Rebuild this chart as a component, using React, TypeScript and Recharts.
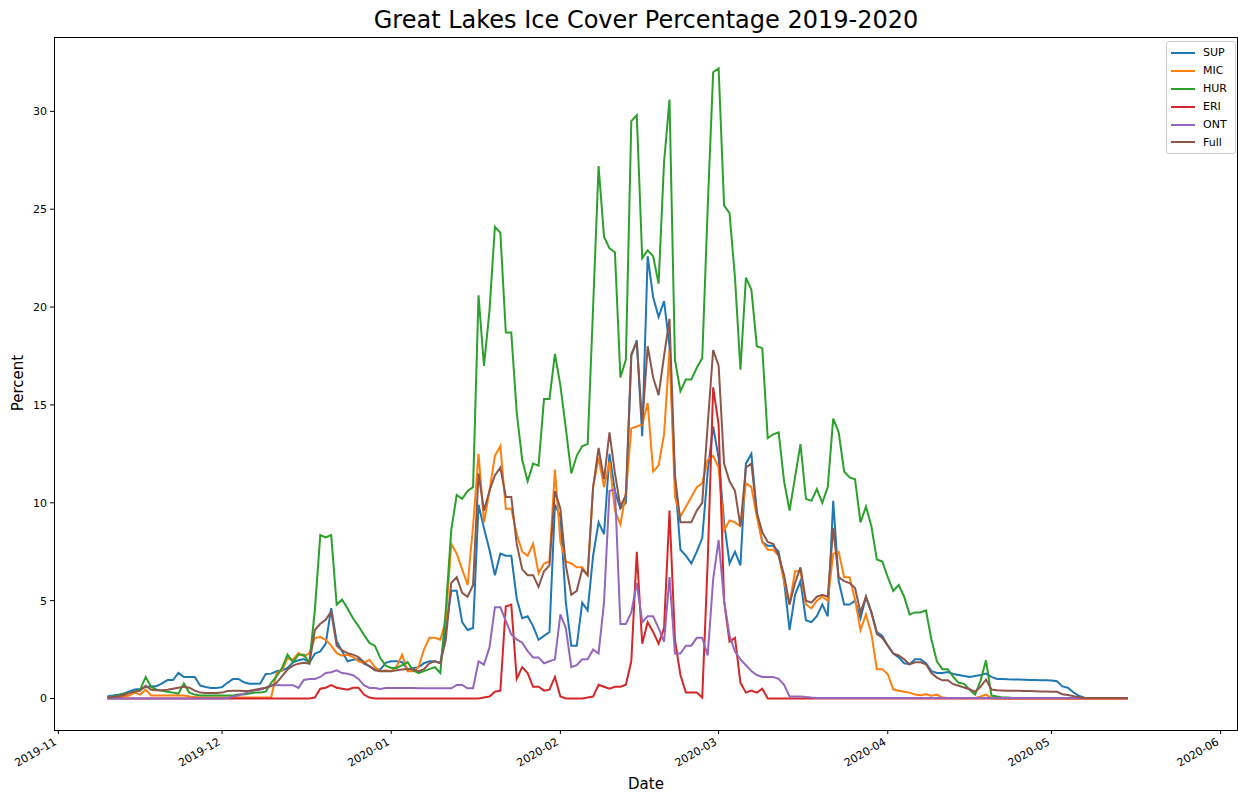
import { LineChart, Line, XAxis, YAxis } from "recharts"

const START = Date.UTC(2019, 10, 10)
const DAY = 86400000

// daily ice cover (%) from 2019-11-10 to 2020-05-15
const sup = [
  0.12, 0.15, 0.19, 0.25, 0.36, 0.46, 0.49, 0.58, 0.63, 0.63,
  0.77, 0.94, 0.94, 1.31, 1.1, 1.1, 1.1, 0.66, 0.59, 0.54,
  0.54, 0.58, 0.8, 1.0, 1.0, 0.83, 0.75, 0.75, 0.77, 1.25,
  1.27, 1.39, 1.43, 1.56, 1.85, 1.95, 2.02, 1.82, 2.29, 2.41,
  2.8, 4.62, 2.92, 2.41, 1.9, 1.98, 2.02, 1.78, 1.65, 1.48,
  1.48, 1.82, 1.9, 1.9, 1.85, 1.48, 1.56, 1.6, 1.8, 1.9,
  1.9, 1.8, 3.5, 5.5, 5.5, 3.9, 3.5, 3.6, 9.9, 8.7,
  7.6, 6.3, 7.4, 7.3, 7.3, 5.1, 4.1, 4.2, 3.7, 3.0,
  3.2, 3.4, 9.9, 9.3, 4.9, 2.7, 2.7, 4.9, 4.5, 7.3,
  9.0, 8.4, 12.5, 10.6, 9.7, 10.0, 17.5, 18.3, 13.4, 22.6,
  20.5, 19.5, 20.3, 18.0, 11.2, 7.6, 7.3, 6.9, 7.5, 8.2,
  11.6, 13.9, 12.3, 9.0, 6.9, 7.5, 6.8, 12.0, 12.5, 9.5,
  8.0, 7.8, 7.8, 7.5, 6.0, 3.5, 5.3, 6.0, 4.0, 3.9,
  4.2, 4.8, 4.2, 10.1, 6.0, 4.8, 4.8, 5.0, 4.1, 5.2,
  4.4, 3.4, 3.2, 2.7, 2.3, 2.1, 1.8, 1.75, 2.0, 2.0,
  1.8, 1.4, 1.3, 1.3, 1.35, 1.25, 1.2, 1.15, 1.1, 1.15,
  1.2, 1.27, 1.1, 1.0, 1.0, 0.98, 0.97, 0.97, 0.96, 0.95,
  0.94, 0.93, 0.93, 0.92, 0.88, 0.62, 0.55, 0.32, 0.14, 0.04,
  0.02, 0.02, 0.02, 0.02, 0.02, 0.02, 0.02, 0.02,
]

const mic = [
  0.02, 0.03, 0.05, 0.1, 0.15, 0.3, 0.2, 0.45, 0.15, 0.15,
  0.15, 0.15, 0.15, 0.15, 0.15, 0.1, 0.08, 0.05, 0.05, 0.05,
  0.05, 0.05, 0.05, 0.05, 0.05, 0.05, 0.05, 0.05, 0.05, 0.05,
  0.05, 1.3, 1.43, 2.07, 1.98, 2.32, 2.15, 2.32, 3.09, 3.14,
  3.0, 2.7, 2.32, 2.19, 2.24, 2.12, 1.9, 1.82, 1.98, 1.61,
  1.39, 1.44, 1.39, 1.64, 2.24, 1.39, 1.39, 1.6, 2.5, 3.1,
  3.1, 3.0, 4.0, 7.9, 7.4, 6.6, 5.8, 8.8, 12.5, 9.0,
  10.6, 12.4, 12.9, 9.7, 9.7, 8.4, 7.5, 7.3, 7.9, 6.4,
  6.9, 7.0, 11.7, 8.0, 7.0, 6.9, 6.7, 6.7, 6.3, 10.8,
  12.3, 10.8, 12.1, 9.6, 8.9, 10.5, 13.8, 13.9, 14.0, 15.1,
  11.6, 11.9, 13.5, 17.8, 10.3, 9.3, 9.8, 10.3, 10.8, 11.0,
  12.2, 12.4, 11.8, 8.6, 9.1, 9.0, 8.8, 11.0, 10.8, 9.3,
  8.0, 7.6, 7.6, 7.3, 6.0, 4.8, 6.5, 6.5, 4.8, 4.6,
  5.0, 5.2, 5.0, 7.4, 7.5, 6.2, 6.2, 5.05, 3.5, 4.3,
  3.3, 1.5, 1.5, 1.24, 0.47, 0.4, 0.35, 0.3, 0.2, 0.17,
  0.22, 0.14, 0.2, 0.05, 0.03, 0.03, 0.02, 0.01, 0.02, 0.02,
  0.1, 0.2, 0.02, 0, 0, 0, 0, 0, 0, 0,
  0, 0, 0, 0, 0, 0, 0, 0, 0, 0,
  0, 0, 0, 0, 0, 0, 0, 0,
]

const hur = [
  0.05, 0.1, 0.15, 0.25, 0.3, 0.35, 0.45, 1.1, 0.6, 0.45,
  0.4, 0.35, 0.3, 0.25, 0.76, 0.3, 0.2, 0.15, 0.15, 0.15,
  0.15, 0.15, 0.15, 0.15, 0.2, 0.2, 0.25, 0.3, 0.3, 0.35,
  0.8, 1.14, 1.57, 2.24, 1.85, 2.24, 2.24, 1.82, 4.5, 8.35,
  8.23, 8.35, 4.8, 5.05, 4.6, 4.1, 3.7, 3.25, 2.84, 2.7,
  2.07, 1.68, 1.56, 1.56, 1.7, 1.86, 1.44, 1.3, 1.4, 1.5,
  1.6, 1.3, 4.5, 8.6, 10.4, 10.2, 10.6, 10.8, 20.6, 17.0,
  19.8, 24.1, 23.8, 18.7, 18.7, 14.6, 12.2, 11.1, 12.0, 11.9,
  15.3, 15.3, 17.6, 16.0, 13.8, 11.5, 12.4, 12.9, 13.0, 20.0,
  27.2, 23.6, 23.0, 22.8, 16.4, 17.3, 29.5, 29.8, 22.5, 22.9,
  22.6, 21.2, 27.4, 30.6, 17.3, 15.7, 16.3, 16.3, 16.9, 17.4,
  25.1, 32.0, 32.2, 25.2, 24.8, 21.5, 16.8, 21.5, 20.9, 18.0,
  17.9, 13.3, 13.5, 13.6, 11.1, 9.6, 11.3, 13.0, 10.2, 10.1,
  10.7, 10.0, 10.8, 14.3, 13.6, 11.6, 11.3, 11.2, 9.0, 9.8,
  8.8, 7.1, 7.0, 6.2, 5.5, 5.8, 5.2, 4.3, 4.4, 4.4,
  4.5, 3.0, 1.9, 1.5, 1.5, 1.1, 0.8, 0.75, 0.45, 0.2,
  0.9, 1.95, 0.15, 0.1, 0.05, 0.05, 0.03, 0.03, 0.02, 0.02,
  0.02, 0.02, 0.02, 0.02, 0.02, 0.02, 0.02, 0.02, 0.02, 0.02,
  0.02, 0.02, 0.02, 0.02, 0.02, 0.02, 0.02, 0.02,
]

const eri = [
  0, 0, 0, 0, 0, 0, 0, 0, 0, 0,
  0, 0, 0, 0, 0, 0, 0, 0, 0, 0,
  0, 0, 0, 0, 0, 0, 0, 0, 0, 0,
  0, 0, 0, 0, 0, 0, 0, 0, 0.05, 0.5,
  0.55, 0.68, 0.55, 0.5, 0.45, 0.55, 0.55, 0.2, 0.05, 0,
  0, 0, 0, 0, 0, 0, 0, 0, 0, 0,
  0, 0, 0, 0, 0, 0, 0, 0, 0, 0.05,
  0.1, 0.35, 0.4, 4.7, 4.8, 1.0, 1.6, 1.3, 0.6, 0.6,
  0.4, 0.45, 1.1, 0.1, 0, 0, 0, 0, 0.05, 0.1,
  0.7, 0.6, 0.5, 0.6, 0.6, 0.7, 1.9, 7.5, 2.8, 3.9,
  3.4, 2.8, 3.6, 9.6, 3.0, 1.2, 0.3, 0.3, 0.3, 0.05,
  7.0, 15.9, 14.0, 5.0, 2.9, 3.1, 0.8, 0.3, 0.4, 0.3,
  0.5, 0, 0, 0, 0, 0, 0, 0, 0, 0,
  0, 0, 0, 0, 0, 0, 0, 0, 0, 0,
  0, 0, 0, 0, 0, 0, 0, 0, 0, 0,
  0, 0, 0, 0, 0, 0, 0, 0, 0, 0,
  0, 0, 0, 0, 0, 0, 0, 0, 0, 0,
  0, 0, 0, 0, 0, 0, 0, 0, 0, 0,
  0, 0, 0, 0, 0, 0, 0, 0,
]

const ont = [
  0, 0, 0, 0, 0, 0, 0, 0, 0, 0,
  0, 0, 0, 0, 0, 0, 0, 0, 0, 0,
  0, 0, 0.02, 0.1, 0.15, 0.25, 0.35, 0.42, 0.45, 0.55,
  0.68, 0.68, 0.68, 0.68, 0.68, 0.54, 0.95, 1.0, 1.0, 1.1,
  1.3, 1.34, 1.44, 1.3, 1.26, 1.19, 1.0, 0.68, 0.54, 0.54,
  0.49, 0.54, 0.54, 0.54, 0.54, 0.54, 0.54, 0.52, 0.52, 0.52,
  0.52, 0.52, 0.52, 0.52, 0.69, 0.69, 0.52, 0.52, 1.9, 1.73,
  2.6, 4.66, 4.66, 3.97, 3.28, 3.02, 2.85, 2.42, 2.1, 2.1,
  1.8, 1.9, 2.0, 4.3, 3.6, 1.6, 1.7, 2.0, 2.0, 2.5,
  2.3, 4.9, 10.6, 10.7, 3.8, 3.8, 4.4, 5.9, 3.9, 4.2,
  4.2, 3.6, 2.9, 6.2, 2.3, 2.3, 2.7, 2.7, 3.1, 3.1,
  2.2, 6.1, 8.1, 5.0, 3.2, 2.4, 2.0, 1.7, 1.4, 1.2,
  1.1, 1.1, 1.1, 1.0, 0.7, 0.1, 0.1, 0.1, 0.08, 0.05,
  0.03, 0.03, 0.03, 0.03, 0.03, 0.03, 0.03, 0.03, 0.03, 0.03,
  0.02, 0.02, 0.02, 0.02, 0.02, 0.02, 0.02, 0.02, 0.02, 0.02,
  0.02, 0.02, 0.02, 0.02, 0.02, 0.02, 0.02, 0.02, 0.02, 0.02,
  0.02, 0.02, 0.02, 0.02, 0.02, 0.02, 0.02, 0.02, 0.02, 0.02,
  0.02, 0.02, 0.02, 0.02, 0.02, 0.02, 0.02, 0.02, 0.02, 0.02,
  0.02, 0.02, 0.02, 0.02, 0.02, 0.02, 0.02, 0.02,
]

const full = [
  0.05, 0.08, 0.12, 0.18, 0.28, 0.35, 0.4, 0.65, 0.45, 0.42,
  0.42, 0.45, 0.5, 0.55, 0.6, 0.55, 0.4, 0.3, 0.28, 0.28,
  0.28, 0.3, 0.38, 0.4, 0.4, 0.38, 0.4, 0.45, 0.5, 0.55,
  0.63, 0.8, 1.14, 1.48, 1.68, 1.78, 1.82, 1.78, 3.5, 3.82,
  4.02, 4.45, 2.7, 2.46, 2.32, 2.24, 2.12, 1.85, 1.65, 1.44,
  1.39, 1.39, 1.39, 1.44, 1.48, 1.51, 1.48, 1.4, 1.5, 1.8,
  1.9, 1.8, 3.0, 5.9, 6.2, 5.4, 5.2, 5.8, 11.5, 9.6,
  10.6, 11.4, 11.8, 10.3, 10.3, 7.9, 6.6, 6.3, 6.3, 5.7,
  6.5, 6.8, 10.6, 9.7, 6.8, 5.3, 5.5, 6.6, 6.3, 10.8,
  12.8, 11.2, 13.6, 11.5, 9.8, 10.4, 17.6, 18.2, 14.0, 18.0,
  16.4, 15.5, 17.5, 19.4, 11.4, 9.0, 9.0, 9.0, 9.6, 10.0,
  14.0, 17.8, 17.0, 12.0, 11.1, 10.6, 8.8, 11.8, 12.0, 9.5,
  8.5, 8.0, 7.9, 7.3, 6.3, 4.8, 5.9, 6.7, 5.0, 4.9,
  5.2, 5.3, 5.2, 8.7, 6.2, 6.0, 5.9, 5.65, 4.4, 5.2,
  4.4, 3.3, 3.1, 2.7, 2.3, 2.2, 2.0, 1.75, 1.85, 1.85,
  1.75, 1.3, 1.07, 0.93, 0.93, 0.73, 0.65, 0.56, 0.47, 0.35,
  0.6, 0.97, 0.46, 0.42, 0.41, 0.4, 0.4, 0.39, 0.38, 0.38,
  0.37, 0.36, 0.36, 0.35, 0.34, 0.22, 0.18, 0.12, 0.06, 0.03,
  0.02, 0.02, 0.02, 0.02, 0.02, 0.02, 0.02, 0.02,
]

const series = [
  { key: "SUP", color: "#1f77b4", values: sup },
  { key: "MIC", color: "#ff7f0e", values: mic },
  { key: "HUR", color: "#2ca02c", values: hur },
  { key: "ERI", color: "#d62728", values: eri },
  { key: "ONT", color: "#9467bd", values: ont },
  { key: "Full", color: "#8c564b", values: full },
]

const monthTicks = [
  Date.UTC(2019, 10, 1),
  Date.UTC(2019, 11, 1),
  Date.UTC(2020, 0, 1),
  Date.UTC(2020, 1, 1),
  Date.UTC(2020, 2, 1),
  Date.UTC(2020, 3, 1),
  Date.UTC(2020, 4, 1),
  Date.UTC(2020, 5, 1),
]
const monthLabels = ["2019-11", "2019-12", "2020-01", "2020-02", "2020-03", "2020-04", "2020-05", "2020-06"]
const yTicks = [0, 5, 10, 15, 20, 25, 30]

const chartData = sup.map((_, i) => {
  const row: Record<string, number> = { date: START + i * DAY }
  series.forEach((s) => {
    row[s.key] = s.values[i]
  })
  return row
})

const FONT = "'DejaVu Sans', sans-serif"

function DateTick({ x, y, payload }: any) {
  const idx = monthTicks.indexOf(payload.value)
  return (
    <text
      x={x - 1}
      y={y + 10}
      transform={`rotate(-30 ${x - 1} ${y + 10})`}
      textAnchor="end"
      fontSize={11}
      fontFamily={FONT}
      fill="#000"
    >
      {monthLabels[idx]}
    </text>
  )
}

// legend drawn as plain html so it does not eat plot width
function LegendBox() {
  return (
    <div
      style={{
        position: "absolute",
        top: 41,
        right: 2,
        border: "1px solid #cccccc",
        borderRadius: 3,
        background: "rgba(255,255,255,0.8)",
        padding: "2px 4px 2px 4px",
        fontFamily: FONT,
        fontSize: 11,
        width: 60,
      }}
    >
      {series.map((s) => (
        <div key={s.key} style={{ display: "flex", alignItems: "center", height: 17.9 }}>
          <span style={{ display: "inline-block", width: 24, height: 2, background: s.color, marginRight: 8 }} />
          <span>{s.key}</span>
        </div>
      ))}
    </div>
  )
}

export default function App() {
  return (
    <div style={{ position: "absolute", left: 0, top: 0, width: 1238, height: 795, background: "#fff" }}>
      <div
        style={{
          position: "absolute",
          top: 6,
          left: 54,
          width: 1184,
          textAlign: "center",
          fontFamily: FONT,
          fontSize: 24,
          color: "#000",
        }}
      >
        Great Lakes Ice Cover Percentage 2019-2020
      </div>
      <LineChart width={1238} height={795} data={chartData} margin={{ top: 37, right: 1, left: 0, bottom: 0 }}>
        <XAxis
          dataKey="date"
          type="number"
          scale="linear"
          domain={[START - 9.8 * DAY, START + 207 * DAY]}
          allowDataOverflow
          ticks={monthTicks}
          tick={<DateTick />}
          tickSize={4}
          tickMargin={0}
          tickLine={{ stroke: "#000" }}
          axisLine={false}
          height={65}
          interval={0}
        />
        <YAxis
          type="number"
          domain={[-1.61, 33.8]}
          allowDataOverflow
          ticks={yTicks}
          tickSize={4}
          tickMargin={3}
          tickLine={{ stroke: "#000" }}
          axisLine={false}
          tick={{ fontSize: 11, fill: "#000", fontFamily: FONT }}
          width={54}
          interval={0}
        />
        {series.map((s) => (
          <Line
            key={s.key}
            dataKey={s.key}
            name={s.key}
            type="linear"
            stroke={s.color}
            strokeWidth={2}
            dot={false}
            activeDot={false}
            isAnimationActive={false}
          />
        ))}
      </LineChart>
      <LegendBox />
      <div
        style={{
          position: "absolute",
          left: 54,
          top: 37,
          width: 1184,
          height: 694,
          boxSizing: "border-box",
          border: "1px solid #000",
          pointerEvents: "none",
        }}
      />
      <div
        style={{
          position: "absolute",
          top: 775,
          left: 54,
          width: 1184,
          textAlign: "center",
          fontFamily: FONT,
          fontSize: 15,
          color: "#000",
        }}
      >
        Date
      </div>
      <div
        style={{
          position: "absolute",
          left: 18,
          top: 383,
          transform: "translate(-50%, -50%) rotate(-90deg)",
          fontFamily: FONT,
          fontSize: 15,
          color: "#000",
          whiteSpace: "nowrap",
        }}
      >
        Percent
      </div>
    </div>
  )
}
